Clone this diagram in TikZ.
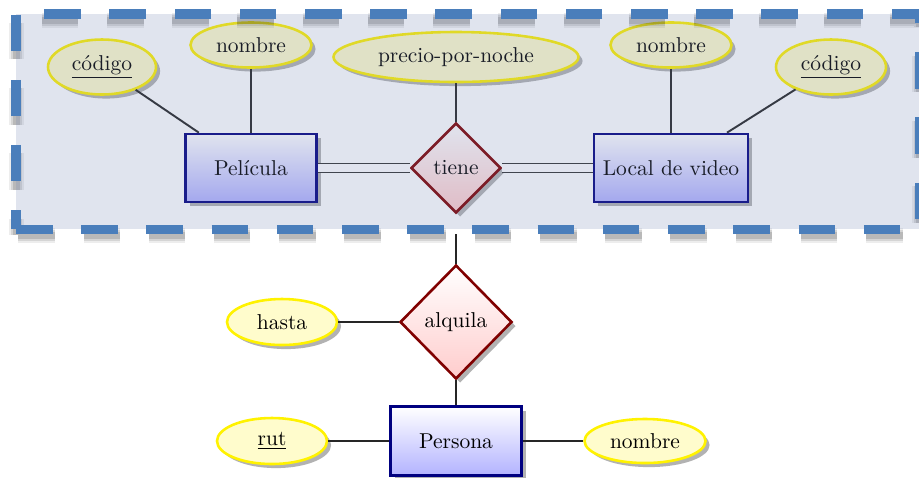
\documentclass[tikz,border=0pt]{standalone}
\usetikzlibrary{shapes.geometric,shadows}
\definecolor{boxblue}{RGB}{74,126,187}
\definecolor{boxfill}{RGB}{114,132,178}
\newcommand\pxu{0.4651pt}
\begin{document}
\begin{tikzpicture}[x=0.4651pt,y=-0.4651pt,
  nodeshadow/.style={drop shadow={shadow xshift=1.9pt,shadow yshift=-1.9pt,opacity=0.3,fill=black}},
  entity/.style={rectangle,draw=blue!50!black,line width=1.25pt,top color=white,bottom color=blue!30,inner sep=0pt,nodeshadow},
  rel/.style={diamond,aspect=1,draw=red!50!black,line width=1.2pt,top color=white,bottom color=red!20,inner sep=0pt,nodeshadow},
  attr/.style={ellipse,draw=yellow,line width=1.2pt,fill=yellow!20,inner sep=0pt,nodeshadow},
  link/.style={line width=0.9pt,draw=black!85},
  dbl/.style={line width=0.8pt,double distance=3.4pt,draw=black!80},
  aggbox/.style={rectangle,draw=boxblue,line width=4.2pt,dash pattern=on 16.98pt off 13.35pt,fill=boxfill,fill opacity=0.22,inner sep=0pt},
  boxshade/.style={draw=black,dash pattern=on 16.98pt off 13.35pt,dash phase=9.3pt}
]
\useasboundingbox (0,0) rectangle (919,477);

% aggregated part
\node[attr,minimum width=108*\pxu,minimum height=55*\pxu] (codL) at (102,67) {\underline{código}};
\node[attr,minimum width=121*\pxu,minimum height=45*\pxu] (nomL) at (251,45) {nombre};
\node[attr,minimum width=245*\pxu,minimum height=50*\pxu] (precio) at (456,57) {precio-por-noche};
\node[attr,minimum width=121*\pxu,minimum height=45*\pxu] (nomR) at (671,45) {nombre};
\node[attr,minimum width=110*\pxu,minimum height=55*\pxu] (codR) at (831,67) {\underline{código}};
\node[entity,minimum width=131*\pxu,minimum height=68*\pxu] (pel) at (251,168) {Película};
\node[entity,minimum width=154*\pxu,minimum height=68*\pxu] (local) at (671,168) {Local de video};
\node[rel,minimum width=90*\pxu,minimum height=90*\pxu] (tiene) at (456,168) {tiene};

\draw[link] (codL) -- (pel);
\draw[link] (nomL) -- (pel);
\draw[link] (precio) -- (tiene);
\draw[link] (nomR) -- (local);
\draw[link] (codR) -- (local);
\draw[dbl] (pel) -- (tiene);
\draw[dbl] (tiene) -- (local);

% blurred shadow of the aggregation box
\draw[boxshade,line width=15*\pxu,draw opacity=0.07] (16,235) rectangle (919,20);
\draw[boxshade,line width=11*\pxu,draw opacity=0.10] (16,235) rectangle (919,20);
\draw[boxshade,line width=7*\pxu,draw opacity=0.13] (16,235) rectangle (919,20);

\node[aggbox,minimum width=903*\pxu,minimum height=215*\pxu] (box) at (467.5,121.5) {};

% lower part
\node[rel,minimum width=112*\pxu,minimum height=114*\pxu] (alq) at (456,322) {alquila};
\node[attr,minimum width=110*\pxu,minimum height=46*\pxu] (hasta) at (282,322) {hasta};
\node[entity,minimum width=131*\pxu,minimum height=69*\pxu] (pers) at (456,441) {Persona};
\node[attr,minimum width=110*\pxu,minimum height=46*\pxu] (rut) at (272,441) {\underline{rut}};
\node[attr,minimum width=121*\pxu,minimum height=44*\pxu] (nomB) at (645,441) {nombre};

\draw[link] (alq.north) -- (alq.north |- box.south);
\draw[link] (hasta) -- (alq);
\draw[link] (alq) -- (pers);
\draw[link] (rut) -- (pers);
\draw[link] (pers) -- (nomB);
\end{tikzpicture}
\end{document}
